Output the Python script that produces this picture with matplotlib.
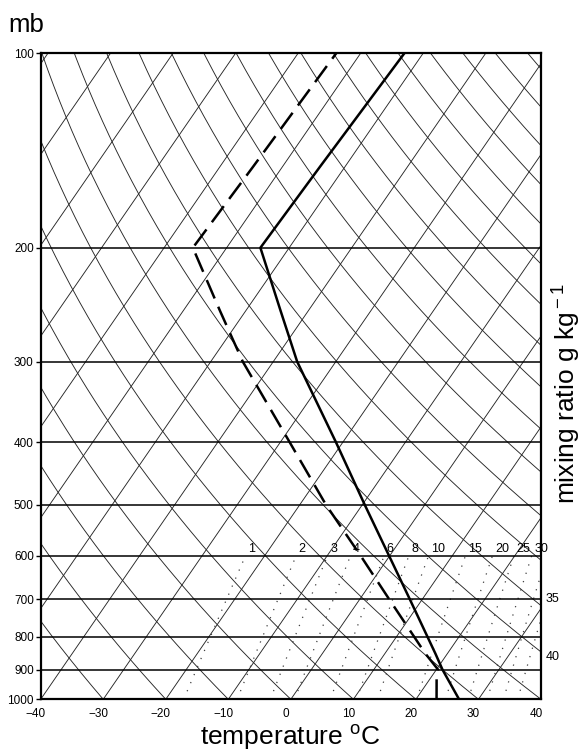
import numpy as np
import matplotlib
matplotlib.use("Agg")
import matplotlib.pyplot as plt
from matplotlib.ticker import NullLocator
from matplotlib.transforms import ScaledTranslation

plt.rcParams['font.family'] = ['Liberation Sans', 'DejaVu Sans']
plt.rcParams['mathtext.fontset'] = 'custom'
plt.rcParams['mathtext.rm'] = 'Liberation Sans'
plt.rcParams['mathtext.it'] = 'Liberation Sans:italic'

SKEW = 30.9      # degC of skew per unit ln(p0/p)
P0 = 1000.0
KAPPA = 0.2857

# sounding: temperature and dew point (degC) at pressure levels (mb)
p_temp = [1000, 900, 850, 700, 500, 400, 300, 250, 200, 150, 100]
temp = [26.9, 21.0, 18.1, 8.0, -9.6, -21.1, -36.2, -44.5, -54.6, -54.0, -53.0]
p_dew = [1000, 925, 900, 850, 700, 600, 500, 400, 300, 250, 200, 150, 100]
dewpt = [23.3, 20.9, 20.3, 16.5, 4.7, -4.6, -15.8, -28.5, -44.9, -54.2, -65.4, -64.7, -63.9]

# background lines
isotherms = np.arange(-110, 50, 10)        # degC
dry_adiabats = np.arange(-30, 200, 10)     # potential temperature, degC
mixing_ratios = [1, 2, 3, 4, 6, 8, 10, 15, 20, 25, 30, 35, 40]   # g/kg
side_labels = {35: 700, 40: 860}           # mixing ratios labelled on the right edge

p_ticks = [100, 200, 300, 400, 500, 600, 700, 800, 900, 1000]
t_ticks = [-40, -30, -20, -10, 0, 10, 20, 30, 40]


def skew_x(t, p):
    return np.asarray(t, dtype=float) + SKEW * np.log(P0 / np.asarray(p, dtype=float))


def sat_temp(w, p):
    # temperature at which saturation mixing ratio equals w (g/kg) at pressure p
    e = w * p / (622.0 + w)
    a = np.log(e / 6.112)
    return 243.5 * a / (17.67 - a)


fig = plt.figure(figsize=(5.82, 7.53), dpi=100)
ax = fig.add_axes([40.7 / 582, 1 - 699.3 / 753, 500.3 / 582, 646.0 / 753])
ax.set_yscale('log')

p = np.logspace(3, 2, 300)

for t0 in isotherms:
    ax.plot(skew_x(np.full_like(p, t0), p), p, color='0.15', lw=0.65, zorder=1)

for th in dry_adiabats:
    t = (th + 273.15) * (p / P0) ** KAPPA - 273.15
    ax.plot(skew_x(t, p), p, color='0.15', lw=0.65, zorder=1)

p_mr = np.logspace(3, np.log10(600), 80)
for w in mixing_ratios:
    ax.plot(skew_x(sat_temp(w, p_mr), p_mr), p_mr, color='0.25', lw=0.9,
            ls=(0, (1, 6)), zorder=1)
    if w in side_labels:
        ax.annotate(str(w), xy=(1, side_labels[w]), xycoords=('axes fraction', 'data'),
                    xytext=(3.5, 0), textcoords='offset points', ha='left', va='center',
                    fontsize=9, annotation_clip=False)
    else:
        ax.annotate(str(w), xy=(skew_x(sat_temp(w, 600), 600), 600),
                    xytext=(2, 3), textcoords='offset points', ha='left', va='baseline',
                    fontsize=9, annotation_clip=False)

for pl in p_ticks[1:-1]:
    ax.axhline(pl, color='k', lw=1.1, zorder=2)

ax.plot(skew_x(temp, p_temp), p_temp, color='k', lw=1.8, zorder=5)
ax.plot(skew_x(dewpt, p_dew), p_dew, color='k', lw=1.8, ls=(0, (8, 3.6)),
        dash_capstyle='butt', zorder=5)

ax.set_xlim(-40, 40)
ax.set_ylim(1000, 100)
ax.set_yticks(p_ticks)
ax.set_yticklabels([str(v) for v in p_ticks])
ax.yaxis.set_minor_locator(NullLocator())
ax.set_xticks(t_ticks)
ax.set_xticklabels([('\u2212' + str(-v)) if v < 0 else str(v) for v in t_ticks])
ax.tick_params(axis='y', direction='out', length=3.5, width=1, pad=1.5, labelsize=8.5)
ax.tick_params(axis='x', length=0, pad=6, labelsize=8.5)
shift = ScaledTranslation(-0.05, 0, fig.dpi_scale_trans)
for lab in ax.get_xticklabels():
    lab.set_transform(lab.get_transform() + shift)

for s in ax.spines.values():
    s.set_linewidth(1.6)
    s.set_zorder(6)

fig.text(8 / 582, 1 - 32 / 753, 'mb', ha='left', va='baseline', fontsize=18.5)
fig.text(290.8 / 582, 1 - 745 / 753, r'temperature $^{\rm o}$C', ha='center',
         va='baseline', fontsize=19)
fig.text(567 / 582, 1 - 394 / 753, r'mixing ratio g kg$^{\rm -1}$', rotation=90,
         ha='center', va='center', fontsize=19)

fig.savefig('out.png', dpi=100)
